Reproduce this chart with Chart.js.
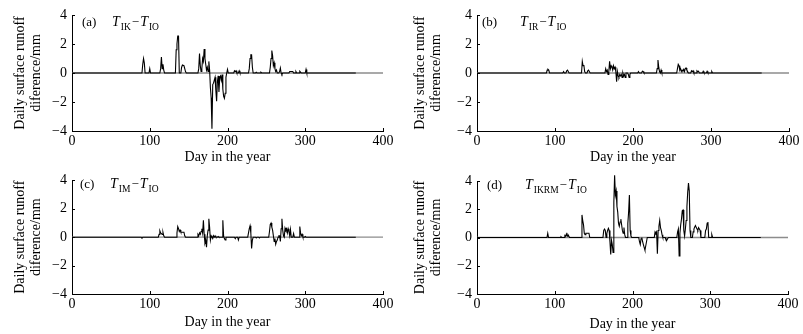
<!DOCTYPE html>
<html>
<head>
<meta charset="utf-8">
<script src="https://cdn.jsdelivr.net/npm/chart.js@4/dist/chart.umd.min.js"></script>
<style>
html,body{margin:0;padding:0;background:#fff;}
body{width:803px;height:334px;position:relative;overflow:hidden;}
canvas{position:absolute;}
</style>
</head>
<body>
<canvas id="ca" width="400" height="167" style="left:0;top:0;width:400px;height:167px"></canvas>
<canvas id="cb" width="403" height="167" style="left:400px;top:0;width:403px;height:167px"></canvas>
<canvas id="cc" width="400" height="167" style="left:0;top:167px;width:400px;height:167px"></canvas>
<canvas id="cd" width="403" height="167" style="left:400px;top:167px;width:403px;height:167px"></canvas>
<script>
// ---- data (day of year, daily surface runoff difference in mm) ----
const xTicks = [0, 100, 200, 300, 400];
const yTicks = [-4, -2, 0, 2, 4];
const yTitle = ['Daily surface runoff', 'diference/mm'];
const xTitle = 'Day in the year';

const daysA = [0,90,91,92,93,94,99,100,101,113,114,115,116,117,118,119,133,134,135,136,137,138,140,141,142,144,145,146,147,162,163,164,165,166,167,168,169,170,171,172,173,174,175,176,177,178,179,180,181,182,183,184,185,186,187,188,189,190,191,192,193,194,195,196,197,198,199,200,201,208,209,210,211,212,214,215,216,227,228,229,230,231,232,233,236,237,238,242,243,244,254,255,256,257,258,259,260,261,262,263,264,266,267,268,269,270,271,279,280,284,285,287,288,289,292,293,295,300,301,302,365];
const valsA = [0,0,0.6,1.0,0.7,0,0,0.3,0,0,0.3,1.1,0.3,0.6,0.2,0,0,1.6,2.0,2.55,2.55,0,0,0.4,0.55,0.5,0.3,0.1,0,0,0.3,1.35,0.5,0.1,0.3,1.0,0.8,1.65,1.0,0.6,0.2,0.4,0.1,0.8,0.2,-1.0,-1.7,-3.85,-0.8,-0.7,-0.5,-0.3,-1.2,-1.95,-0.6,-0.2,-1.3,-0.3,-0.2,-0.5,-0.1,-1.1,-1.6,-1.75,-1.4,-0.3,0,0.25,0,0,0.15,0.1,0.15,0,0,0.15,0,0,0.3,1.0,1.25,1.25,0.4,0,0,0.05,0,0,0.05,0,0,0.4,1.0,1.55,1.2,0.5,0.7,0.3,0.1,0.2,0,0,0.1,0.35,0,-0.1,0,0,0.1,0.1,0,0,0.1,0,0,0.12,0,0,0.25,0,0];

const daysB = [0,89,90,91,92,93,110,111,112,114,115,116,117,118,134,135,136,137,138,139,141,142,143,144,145,164,165,166,167,168,169,170,171,172,173,174,175,176,177,178,179,180,181,182,183,184,185,186,187,188,189,190,191,193,194,195,196,197,206,207,208,211,212,213,214,230,231,232,233,234,235,236,237,256,257,258,259,260,261,262,263,264,265,266,267,268,269,270,271,274,275,276,277,278,281,282,283,284,285,289,290,291,294,295,296,300,301,302,365];
const valsB = [0,0,0.2,0.25,0.2,0,0,0.1,0,0,0.15,0.2,0.1,0,0,0.8,0.5,0.55,0.1,0,0,0.15,0.2,0.1,0,0,0.3,0.1,0.2,-0.1,0.1,0.8,0.3,0.5,0.4,0.2,0.5,0.3,0.4,0.1,-0.6,0.1,-0.2,-0.3,-0.1,-0.2,-0.1,-0.3,0,-0.2,-0.1,-0.3,0,0,-0.1,-0.3,-0.1,0,0,0.1,0,0,0.12,0.1,0,0,0.3,0.9,0.4,0.1,0,0.2,0,0,0.3,0.6,0.5,0.2,0.3,0.1,0.2,0.15,0.25,0.1,0.3,0.35,0.2,0.1,0,0,0.15,0.1,0.15,0,0,0.15,0.1,0.12,0,0,0.12,0,0,0.12,0,0,0.1,0,0];

const daysC = [0,89,90,91,111,112,113,114,115,116,117,118,119,134,135,136,137,138,139,140,144,145,146,161,162,163,164,165,166,167,168,169,170,171,172,173,174,175,176,177,178,179,180,181,182,183,184,185,187,188,189,193,194,195,196,197,198,209,210,211,213,214,215,226,227,228,229,230,231,232,233,236,237,238,240,241,242,253,254,255,256,257,258,259,260,261,262,263,264,265,266,267,268,269,270,271,272,273,274,275,276,277,278,279,280,281,282,284,285,286,292,293,294,295,296,297,299,300,301,365];
const valsC = [0,0,-0.05,0,0,0.2,0.45,0.3,0.25,0.2,0.35,0.1,0,0,0.3,0.75,0.6,0.4,0.5,0.35,0.35,0.1,0,0,0.2,0.1,0.3,0.2,0.4,0.6,0.3,1.2,0.2,-0.4,-0.2,-0.7,0.1,0.5,1.3,0.7,-0.2,0.1,0,-0.1,0.1,0,0.1,0,0,0.05,0,0,1.2,0.1,-0.1,-0.2,0,0,-0.1,0,0,-0.2,0,0,0.3,0.6,0.8,0.3,-0.8,-0.2,0,0,-0.05,0,0,-0.05,0,0,0.4,0.9,1.0,0.7,0.5,0.1,-0.3,-0.1,-0.5,-0.3,-0.2,0,0.1,0.1,-0.3,0.6,1.3,0.5,0.1,0,0.65,0.5,0.6,0.3,0.6,0.4,0.1,0.55,0,0,0.25,0,0,0.75,0.3,0.1,0.2,0,0,0.05,0,0];

const daysD = [0,90,91,92,107,108,109,112,113,114,115,116,117,118,119,134,135,136,137,138,139,140,144,145,162,163,164,165,166,167,168,169,170,171,172,173,174,175,176,177,178,179,180,181,182,183,184,185,186,187,188,189,190,191,193,194,195,196,197,198,199,208,209,210,211,212,213,214,215,216,217,218,219,228,229,230,231,232,233,234,235,236,237,238,239,242,243,244,245,246,257,258,259,260,261,262,263,264,265,266,267,268,269,270,271,272,273,274,275,277,278,279,280,281,282,283,284,285,286,287,288,293,294,295,296,297,298,301,302,303,365];
const valsD = [0,0,0.3,0,0,0.05,0,0,0.15,0.1,0.25,0.1,0.2,0.1,0,0,1.6,1.2,0.9,0.3,0.2,0.3,0.3,0,0,0.5,0.6,0.5,0,0.3,0.5,0.65,0.5,-0.3,-1.2,-0.2,-0.5,-1.05,2.5,4.4,3.0,3.3,2.2,1.8,1.0,0.8,1.1,1.3,0.9,0.5,0.3,0.7,0.2,0,0,1.0,1.8,3.0,0.5,0.1,0,0,-0.3,-0.5,-0.1,0,-0.3,-0.5,-0.7,-0.9,-0.6,-0.3,0,0,0.4,0.3,0.4,-1.15,0.5,0.8,1.2,0.7,0.5,0.2,0,0,-0.15,-0.2,-0.1,0,0,0.4,0.6,-1.3,0.3,0.9,1.3,1.9,1.95,0.5,0.1,0.6,1.2,2.2,3.2,3.85,3.3,0.5,0,0,0.4,0.6,0.75,0.85,0.7,0.6,0.5,0.7,0.6,0.5,0,0,0.5,0.6,1.0,1.1,0,0,0.2,0,0];

const baseDays = [0, 400];
const baseVals = [0, 0];

// ---- layout per panel ----
const panels = [
  {id:'ca', days:daysA, vals:valsA, tag:'(a)', sub1:'IK', W:400, left:72, right:383, top:15, bottom:131, tagX:82, tX:112, base:26, xtPad:2},
  {id:'cb', days:daysB, vals:valsB, tag:'(b)', sub1:'IR', W:403, left:77, right:389, top:15, bottom:131, tagX:82, tX:120, base:26, xtPad:2},
  {id:'cc', days:daysC, vals:valsC, tag:'(c)', sub1:'IM', W:400, left:72, right:383, top:13, bottom:127, tagX:80, tX:110, base:21, xtPad:4},
  {id:'cd', days:daysD, vals:valsD, tag:'(d)', sub1:'IKRM', W:403, left:77, right:388, top:14, bottom:127, tagX:87, tX:125, base:22, xtPad:2}
];

const FONT = "'Liberation Serif', 'Times New Roman', serif";

function zip(d, v){ return d.map((x,i)=>({x:x, y:v[i]})); }

const extras = {
  id:'extras',
  afterDraw(chart, args, o){
    const ctx = chart.ctx, ca = chart.chartArea;
    const xs = chart.scales.x, ys = chart.scales.y;
    ctx.save();
    ctx.strokeStyle = '#000'; ctx.lineWidth = 1;
    ctx.beginPath();
    xTicks.forEach(t=>{ const px = Math.round(xs.getPixelForValue(t))+0.5; ctx.moveTo(px, ca.bottom); ctx.lineTo(px, ca.bottom-3); });
    yTicks.forEach(t=>{ const py = Math.round(ys.getPixelForValue(t))+0.5; ctx.moveTo(ca.left, py); ctx.lineTo(ca.left+3, py); });
    ctx.stroke();
    // panel label
    ctx.fillStyle = '#000';
    ctx.textBaseline = 'alphabetic';
    ctx.textAlign = 'left';
    ctx.font = '13px ' + FONT;
    ctx.fillText(o.tag, o.tagX, o.base);
    let x = o.tX;
    ctx.font = 'italic 14px ' + FONT;
    ctx.fillText('T', x, o.base); x += ctx.measureText('T').width + 1;
    ctx.font = '9.5px ' + FONT;
    ctx.fillText(o.sub1, x, o.base + 3.5); x += ctx.measureText(o.sub1).width + 1;
    ctx.font = '13px ' + FONT;
    ctx.fillText('\u2212', x, o.base); x += ctx.measureText('\u2212').width + 1;
    ctx.font = 'italic 14px ' + FONT;
    ctx.fillText('T', x, o.base); x += ctx.measureText('T').width + 1;
    ctx.font = '9.5px ' + FONT;
    ctx.fillText('IO', x, o.base + 3.5);
    ctx.restore();
  }
};

panels.forEach(p=>{
  const H = 167;
  new Chart(document.getElementById(p.id), {
    type:'line',
    data:{ datasets:[
      {data:zip(p.days, p.vals), borderColor:'#000', borderWidth:1.1, pointRadius:0, tension:0, fill:false, clip:false, order:0},
      {data:zip(baseDays, baseVals), borderColor:'#8c8c8c', borderWidth:1.3, pointRadius:0, tension:0, fill:false, order:1}
    ]},
    options:{
      responsive:false, animation:false, devicePixelRatio:1,
      layout:{ padding:{ left:0, top:p.top, right:p.W - p.right, bottom:0 } },
      plugins:{ legend:{display:false}, tooltip:{enabled:false}, extras:{tag:p.tag, sub1:p.sub1, tagX:p.tagX, tX:p.tX, base:p.base} },
      scales:{
        x:{ type:'linear', min:0, max:400,
            afterFit(s){ s.height = H - p.bottom; },
            afterBuildTicks(s){ s.ticks = xTicks.map(v=>({value:v})); },
            grid:{ drawOnChartArea:false, drawTicks:false },
            border:{ display:true, color:'#000', width:1 },
            ticks:{ padding:2, color:'#000', font:{family:FONT, size:14}, maxRotation:0, autoSkip:false },
            title:{ display:true, text:xTitle, color:'#000', font:{family:FONT, size:14, lineHeight:1.15}, padding:{top:0, bottom:p.xtPad} } },
        y:{ type:'linear', min:-4, max:4,
            afterFit(s){ s.width = p.left; },
            afterBuildTicks(s){ s.ticks = yTicks.map(v=>({value:v})); },
            grid:{ drawOnChartArea:false, drawTicks:false },
            border:{ display:true, color:'#000', width:1 },
            ticks:{ padding:5, color:'#000', font:{family:FONT, size:14},
                    callback:v=> v < 0 ? '\u2212' + Math.abs(v) : String(v) },
            title:{ display:true, text:yTitle, color:'#000', font:{family:FONT, size:14, lineHeight:1.15}, padding:{top:12.5, bottom:0} } }
      }
    },
    plugins:[extras]
  });
});
</script>
</body>
</html>
